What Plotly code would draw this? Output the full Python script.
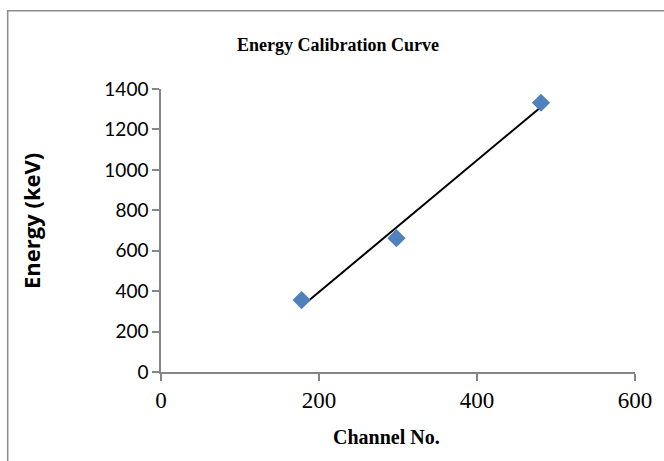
import numpy as np
import plotly.graph_objects as go

# Data
channel = [178, 298, 481]
energy = [356, 662, 1332]
x_ticks = [0, 200, 400, 600]
y_ticks = [0, 200, 400, 600, 800, 1000, 1200, 1400]

title_text = "Energy Calibration Curve"
x_title = "Channel No."
y_title = "Energy (keV)"

# Linear trendline (least squares) across data range
slope, intercept = np.polyfit(channel, energy, 1)
tx = [min(channel), max(channel)]
ty = [slope * v + intercept for v in tx]

fig = go.Figure()
fig.add_trace(go.Scatter(
    x=tx, y=ty, mode="lines",
    line=dict(color="black", width=2),
    showlegend=False, hoverinfo="skip"))
fig.add_trace(go.Scatter(
    x=channel, y=energy, mode="markers",
    marker=dict(symbol="diamond", size=14, color="#4F81BD",
                line=dict(width=0)),
    showlegend=False))

axis_col = "#868686"
W, H = 664, 461
ml, mr, mt, mb = 161, 29, 89, 89
pw = W - ml - mr
ph = H - mt - mb

fig.update_layout(
    width=W, height=H,
    margin=dict(l=ml, r=mr, t=mt, b=mb),
    paper_bgcolor="white", plot_bgcolor="white",
    xaxis=dict(range=[0, 600], tickvals=x_ticks,
               showgrid=False, zeroline=False,
               showline=True, linecolor=axis_col, linewidth=1.5,
               ticks="outside", ticklen=7, tickcolor=axis_col, tickwidth=1.5,
               tickfont=dict(family="Liberation Serif", size=23, color="black")),
    yaxis=dict(range=[0, 1400], tickvals=y_ticks,
               showgrid=False, zeroline=False,
               showline=True, linecolor=axis_col, linewidth=1.5,
               ticks="outside", ticklen=7, tickcolor=axis_col, tickwidth=1.5,
               tickfont=dict(family="Lato", size=19, color="black")),
    annotations=[
        dict(text="<b>" + title_text + "</b>", xref="paper", yref="paper",
             x=(338 - ml) / pw, y=(H - mb - 45) / ph, showarrow=False,
             xanchor="center", yanchor="middle",
             font=dict(family="Liberation Serif", size=18, color="black")),
        dict(text="<b>" + x_title + "</b>", xref="paper", yref="paper",
             x=(386 - ml) / pw, y=(H - mb - 437) / ph, showarrow=False,
             xanchor="center", yanchor="middle",
             font=dict(family="Liberation Serif", size=20, color="black")),
        dict(text="<b>" + y_title + "</b>", xref="paper", yref="paper",
             x=(31 - ml) / pw, y=(H - mb - 221) / ph, showarrow=False,
             textangle=-90, xanchor="center", yanchor="middle",
             font=dict(family="Open Sans", size=22, color="black")),
    ],
    shapes=[dict(type="rect", xref="paper", yref="paper",
                 x0=(7.7 - ml) / pw, x1=(680 - ml) / pw,
                 y0=(H - mb - 480) / ph, y1=(H - mb - 10.7) / ph,
                 line=dict(color="#8c8c8c", width=1.5),
                 fillcolor="rgba(0,0,0,0)", layer="below")],
)

fig.write_html("out.html")
